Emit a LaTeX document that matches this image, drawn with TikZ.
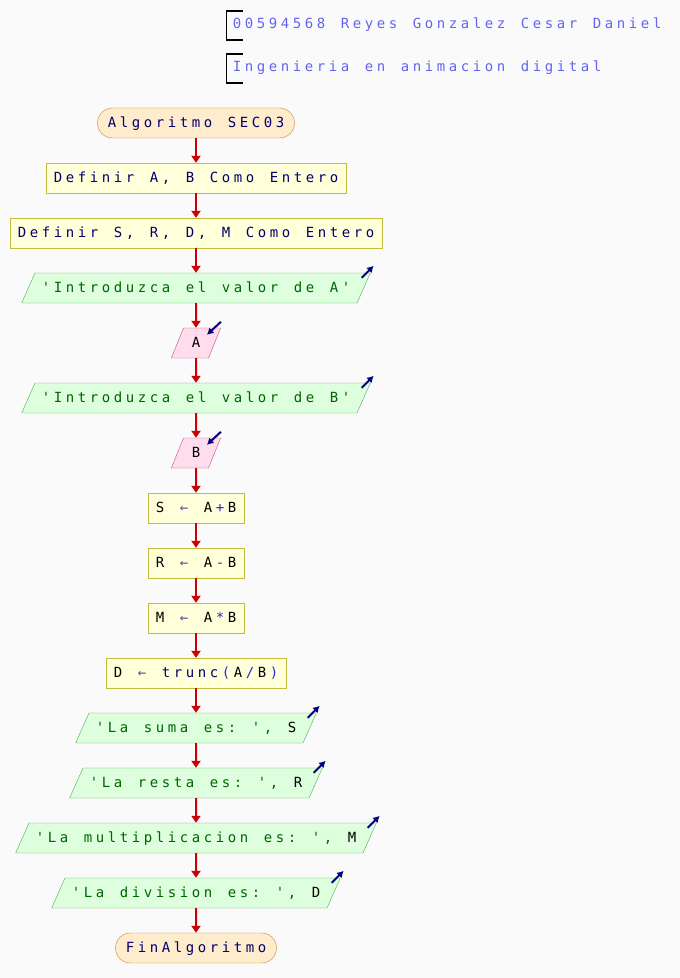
\documentclass[tikz,border=0pt]{standalone}
\usepackage{fontspec}
\newfontfamily\psfont{DejaVu Sans Mono}
\usetikzlibrary{arrows.meta,shapes.geometric}

\definecolor{bgcol}{RGB}{250,250,250}
\definecolor{procfill}{RGB}{255,255,218}
\definecolor{procline}{RGB}{196,188,60}
\definecolor{outfill}{RGB}{221,255,221}
\definecolor{outline}{RGB}{90,170,90}
\definecolor{infill}{RGB}{255,221,236}
\definecolor{inline}{RGB}{190,80,130}
\definecolor{termfill}{RGB}{255,236,204}
\definecolor{termline}{RGB}{196,136,60}
\definecolor{flowcol}{RGB}{204,0,0}
\definecolor{iocol}{RGB}{0,0,128}
\definecolor{kwcol}{RGB}{0,0,110}
\definecolor{strcol}{RGB}{0,100,0}
\definecolor{opcol}{RGB}{40,40,220}
\definecolor{asgcol}{RGB}{110,60,160}
\definecolor{hdrcol}{RGB}{100,100,240}

% colour switches used inside \mono
\newcommand{\kwc}{\color{kwcol}}
\newcommand{\opc}{\color{opcol}}
\newcommand{\asc}{\color{asgcol}}
\newcommand{\vrc}{\color{black}}
\newcommand{\pssp}{\makebox[\pscell]{}}
\newlength{\pscell}
\setlength{\pscell}{12pt}

% every character in a cell of fixed width
\ExplSyntaxOn
\tl_new:N \l_ps_txt_tl
\NewDocumentCommand \mono { m }
  {
    \tl_set:Nn \l_ps_txt_tl {#1}
    \tl_replace_all:Nnn \l_ps_txt_tl { ~ } { \pssp }
    \tl_map_inline:Nn \l_ps_txt_tl
      {
        \tl_if_single_token:nTF {##1}
          { \token_if_cs:NTF ##1 { ##1 } { \makebox[\pscell][c]{##1} } }
          { \makebox[\pscell][c]{##1} }
      }
  }
\ExplSyntaxOff

\tikzset{
  every node/.style={font=\psfont\fontsize{14}{16}\selectfont,text height=19.75pt,text depth=10.25pt,inner ysep=0pt},
  proc/.style={draw=procline,fill=procfill,text=kwcol,inner xsep=6pt},
  term/.style={draw=termline,fill=termfill,text=kwcol,inner xsep=8.5pt,rounded corners=15pt},
  outp/.style={trapezium,trapezium left angle=66,trapezium right angle=114,draw=outline,fill=outfill,text=strcol,inner xsep=5pt},
  inp/.style={trapezium,trapezium left angle=68,trapezium right angle=112,draw=inline,fill=infill,text=black,inner xsep=6.5pt},
  flow/.style={->,draw=flowcol,line width=2pt},
  ioarrow/.style={-{Latex[length=6.5pt,width=7.5pt]},draw=iocol,line width=2pt},
  hdr/.style={text=hdrcol,inner sep=0pt,text height=,text depth=,anchor=west}
}

\begin{document}
\begin{tikzpicture}[x=1pt,y=-1pt,>={Triangle[length=7pt,width=9pt]}]
    \fill[bgcol] (0,0) rectangle (680,978);
    \useasboundingbox (0,0) rectangle (680,978);
    % header
    \node[hdr] (hdra) at (231,25) {\mono{00594568 Reyes Gonzalez Cesar Daniel}};
    \node[hdr] (hdrb) at (231,68) {\mono{Ingenieria en animacion digital}};
    \foreach \h in {hdra,hdrb}{
        \draw[line width=1.1pt] ([shift={(12,-14)}]\h.west) -| ([shift={(-4.5,15)}]\h.west) -- ++(16.5,0);
    }
    % flowchart
    \node[term] (ini) at (196,123) {\mono{Algoritmo SEC03}};
    \node[proc] (defab) at (196,178) {\mono{Definir A, B Como Entero}};
    \node[proc] (defsr) at (196,233) {\mono{Definir S, R, D, M Como Entero}};
    \node[outp] (outa) at (196,288) {\mono{'Introduzca el valor de A'}};
    \node[inp] (ina) at (196,343) {\mono{A}};
    \node[outp] (outb) at (196,398) {\mono{'Introduzca el valor de B'}};
    \node[inp] (inb) at (196,453) {\mono{B}};
    \node[proc,text=black] (asgs) at (196,508) {\mono{S \asc← \vrc A\opc+\vrc B}};
    \node[proc,text=black] (asgr) at (196,563) {\mono{R \asc← \vrc A\opc-\vrc B}};
    \node[proc,text=black] (asgm) at (196,618) {\mono{M \asc← \vrc A\opc*\vrc B}};
    \node[proc,text=black] (asgd) at (196,673) {\mono{D \asc← \kwc trunc\opc(\vrc A\opc/\vrc B\opc)}};
    \node[outp] (osum) at (196,728) {\mono{'La suma es: ', \vrc S}};
    \node[outp] (ores) at (196,783) {\mono{'La resta es: ', \vrc R}};
    \node[outp] (omul) at (196,838) {\mono{'La multiplicacion es: ', \vrc M}};
    \node[outp] (odiv) at (196,893) {\mono{'La division es: ', \vrc D}};
    \node[term] (fin) at (196,948) {\mono{FinAlgoritmo}};
    \foreach \a/\b in {ini/defab,defab/defsr,defsr/outa,outa/ina,ina/outb,outb/inb,inb/asgs,
        asgs/asgr,asgr/asgm,asgm/asgd,asgd/osum,osum/ores,ores/omul,omul/odiv,odiv/fin}{
        \draw[flow] (\a) -- (\b);
    }
    % io marks
    \foreach \o in {outa,outb,osum,ores,omul,odiv}{
        \draw[ioarrow] ([shift={(-9,5)}]\o.top right corner) -- ++(12,-12);
    }
    \foreach \i in {ina,inb}{
        \draw[ioarrow] ([shift={(0,-6)}]\i.top right corner) -- ++(-14,13);
    }
\end{tikzpicture}
\end{document}
